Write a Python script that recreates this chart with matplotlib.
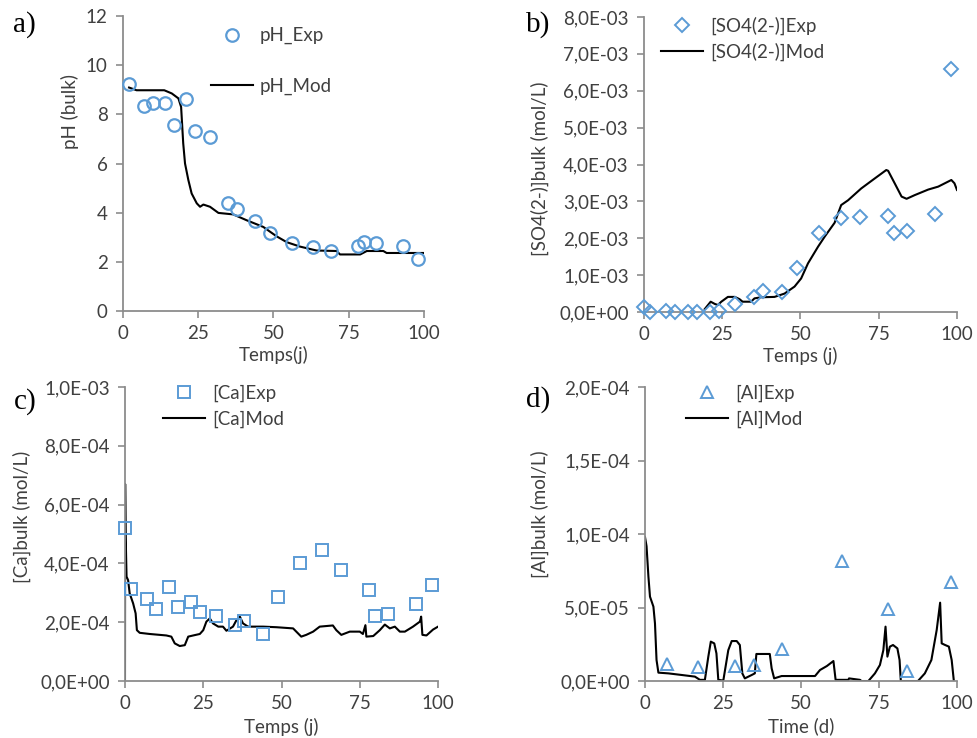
import matplotlib
matplotlib.use('Agg')
import matplotlib.pyplot as plt
from matplotlib.ticker import FuncFormatter

# temps des mesures (jours)
t_exp = [2, 7, 10, 14, 17, 21, 24, 29, 35, 38, 44, 49, 56, 63, 69, 78, 80, 84, 93, 98]

# a) pH
ph_exp = [9.25, 8.33, 8.47, 8.47, 7.55, 8.63, 7.34, 7.09, 4.40, 4.13, 3.66, 3.18, 2.75, 2.61, 2.45, 2.65, 2.80, 2.75, 2.65, 2.10]
t_ph_mod = [2, 4.5, 13.7, 16.2, 18.4, 19.3, 20.0, 20.6, 21.7, 22.8, 24.5, 25.6, 26.7, 28.9, 31.7, 36.6, 41.1, 46.6, 51.0, 54.4,
            58.8, 64.3, 71, 72.1, 78.8, 81, 86.5, 87.6, 100]
ph_mod = [9.09, 8.98, 8.98, 8.85, 8.65, 8.3, 6.82, 6.0, 5.33, 4.78, 4.38, 4.24, 4.33, 4.24, 3.99, 3.93, 3.69, 3.42, 3.04, 2.80,
          2.62, 2.46, 2.44, 2.3, 2.3, 2.44, 2.44, 2.36, 2.36]

# b) sulfates
t_so4_exp = [0, 2, 7, 10, 14, 17, 21, 24, 29, 35, 38, 44, 49, 56, 63, 69, 78, 80, 84, 93, 98]
so4_exp = [0.14e-3, 0, 0.02e-3, 0, 0, 0, 0, 0.03e-3, 0.22e-3, 0.41e-3, 0.56e-3, 0.54e-3, 1.19e-3, 2.15e-3, 2.56e-3,
           2.58e-3, 2.60e-3, 2.15e-3, 2.21e-3, 2.65e-3, 6.60e-3]
t_so4_mod = [19.4, 21.3, 22.6, 23.6, 24.7, 26.8, 29, 30.5, 31.5, 34.2, 35.3, 37.4, 41.7, 44.9, 48.1, 50.2, 52.4, 55.6,
             57.7, 60.9, 63.0, 65.2, 69.4, 73.7, 77.4, 78.0, 80.1, 82.3, 83.9, 86.5, 90.8, 94, 98.2, 99.2, 100]
so4_mod = [0.08e-3, 0.28e-3, 0.22e-3, 0.19e-3, 0.28e-3, 0.41e-3, 0.41e-3, 0.35e-3, 0.28e-3, 0.28e-3, 0.37e-3, 0.40e-3,
           0.41e-3, 0.50e-3, 0.69e-3, 0.91e-3, 1.32e-3, 1.77e-3, 2.04e-3, 2.42e-3, 2.90e-3, 3.03e-3, 3.35e-3, 3.62e-3,
           3.85e-3, 3.83e-3, 3.49e-3, 3.13e-3, 3.07e-3, 3.17e-3, 3.32e-3, 3.40e-3, 3.58e-3, 3.49e-3, 3.31e-3]

# c) calcium
t_ca_exp = [0, 2, 7, 10, 14, 17, 21, 24, 29, 35, 38, 44, 49, 56, 63, 69, 78, 80, 84, 93, 98]
ca_exp = [5.19e-4, 3.12e-4, 2.80e-4, 2.44e-4, 3.20e-4, 2.51e-4, 2.70e-4, 2.36e-4, 2.21e-4, 1.89e-4, 2.05e-4, 1.60e-4,
          2.87e-4, 4.00e-4, 4.46e-4, 3.78e-4, 3.10e-4, 2.22e-4, 2.28e-4, 2.61e-4, 3.25e-4]
t_ca_mod = [0, 0.05, 0.2, 0.5, 1.0, 1.5, 2.6, 3.4, 3.8, 4.7, 7.9, 13.2, 14.8, 15.9, 17.5, 19.1, 20.2, 21.8, 23.9, 25,
            26, 27.1, 28.1, 29.8, 31.3, 32.4, 34.5, 35.6, 36.7, 37.7, 39.3, 44.1, 48.4, 53.7, 56.3, 57.9, 60.1, 62.2,
            66.4, 67.5, 69.1, 71.8, 75, 76, 76.8, 77.1, 79.3, 81.4, 83, 84.6, 86.2, 87.8, 89.4, 92, 94.2, 94.6, 95,
            96.3, 98.4, 100]
ca_mod = [0, 6.7e-4, 5.0e-4, 3.55e-4, 3.43e-4, 2.98e-4, 2.64e-4, 2.3e-4, 1.73e-4, 1.64e-4, 1.60e-4, 1.55e-4, 1.51e-4,
          1.28e-4, 1.19e-4, 1.22e-4, 1.51e-4, 1.55e-4, 1.60e-4, 1.73e-4, 2.02e-4, 2.13e-4, 1.96e-4, 1.85e-4, 1.85e-4,
          1.71e-4, 1.85e-4, 2.07e-4, 2.19e-4, 1.96e-4, 1.85e-4, 1.85e-4, 1.83e-4, 1.79e-4, 1.51e-4, 1.57e-4, 1.68e-4,
          1.85e-4, 1.89e-4, 1.73e-4, 1.57e-4, 1.68e-4, 1.68e-4, 1.60e-4, 1.90e-4, 1.51e-4, 1.53e-4, 1.73e-4, 1.92e-4,
          1.79e-4, 1.85e-4, 1.68e-4, 1.68e-4, 1.85e-4, 2.02e-4, 2.19e-4, 1.57e-4, 1.55e-4, 1.75e-4, 1.85e-4]

# d) aluminium
t_al_exp = [7, 17, 29, 35, 44, 63, 78, 84, 98]
al_exp = [11.3e-6, 9.7e-6, 10.2e-6, 10.9e-6, 21.5e-6, 81.6e-6, 49.2e-6, 6.8e-6, 67.3e-6]
t_al_mod = [0, 0.5, 1.1, 1.6, 2.7, 3.2, 3.7, 4.3, 7.5, 11.8, 16.0, 17.6, 19.2, 20.3, 21.1, 22.2, 22.9, 23.5, 25.1,
            26.7, 27.8, 29.4, 30.4, 31.2, 32, 34.2, 35.2, 35.7, 37.4, 40.0, 40.6, 41.4, 43.8, 54.5, 56.1, 58.3, 60.4,
            61.1, 65.2, 65.4, 68.9, 69.4, 71.6, 73.7, 75.3, 76.4, 77.1, 77.7, 78.5, 79.5, 80.9, 81.6, 82, 87.5, 89.7,
            91.8, 93.5, 94.6, 95.1, 96.2, 97.4, 98.3, 99.0]
al_mod = [98, 91.7, 71, 57.4, 50.6, 39.2, 14.3, 5.7, 5.2, 4.1, 3.0, 0.8, 0.8, 16.6, 26.8, 25.6, 18.8, 0.8, 0.3,
          21, 27.2, 27.2, 24.5, 5.2, 1.8, 4.1, 5.2, 18.4, 18.4, 18.4, 8.6, 1.8, 3.4, 3.4, 7.5, 10.2, 13.6,
          0.8, 0.8, 1.8, 0.8, 0, 0, 5.2, 10.9, 21, 37, 16.6, 23.4, 24.5, 22.2, 14.3, 0, 0, 5.2,
          14.3, 34.7, 53.3, 25.6, 24.5, 23.4, 14.3, 0]
al_mod = [v * 1e-6 for v in al_mod]

blue = '#5B9BD5'
grey = '#404040'
fs = 13.5
plt.rcParams['font.family'] = ['Lato', 'DejaVu Sans']
plt.rcParams['font.size'] = fs

sci = FuncFormatter(lambda v, p: f'{v:.1E}'.replace('.', ','))

fig = plt.figure(figsize=(9.78, 7.38), dpi=100)
ax_a = fig.add_axes([0.1258, 0.5786, 0.3077, 0.3997])
ax_b = fig.add_axes([0.6585, 0.5772, 0.3200, 0.3998])
ax_c = fig.add_axes([0.1278, 0.0772, 0.3201, 0.3984])
ax_d = fig.add_axes([0.6595, 0.0772, 0.3190, 0.3984])


def style(ax, ymax, ystep, xlabel, ylabel, xl_pos, yl_pos, fmt=None):
    ax.set_xlim(0, 100)
    ax.set_ylim(0, ymax)
    ax.set_xticks([0, 25, 50, 75, 100])
    ax.set_yticks([i * ystep for i in range(int(round(ymax / ystep)) + 1)])
    if fmt is not None:
        ax.yaxis.set_major_formatter(fmt)
    for s in ['top', 'right']:
        ax.spines[s].set_visible(False)
    for s in ['left', 'bottom']:
        ax.spines[s].set_color('#8c8c8c')
        ax.spines[s].set_linewidth(1.3)
    ax.tick_params(axis='both', direction='out', length=5, width=1.2, color='#8c8c8c', labelcolor=grey, labelsize=fs)
    ax.tick_params(axis='x', pad=5)
    ax.tick_params(axis='y', pad=6)
    ax.set_xlabel(xlabel, color=grey, fontsize=fs)
    ax.set_ylabel(ylabel, color=grey, fontsize=fs)
    ax.xaxis.label.set_va('center')
    ax.yaxis.label.set_va('center')
    ax.xaxis.set_label_coords(*xl_pos)
    ax.yaxis.set_label_coords(*yl_pos)
    ax.patch.set_visible(False)


def leg(ax, x, y, spacing):
    ax.legend(loc='upper left', bbox_to_anchor=(x, y), frameon=False, borderpad=0, borderaxespad=0,
              handlelength=2.25, handletextpad=0.37, labelspacing=spacing, labelcolor=grey, fontsize=fs)


# a
ax_a.plot(t_exp, ph_exp, 'o', ms=9, mfc='none', mec=blue, mew=1.6, label='pH_Exp', clip_on=False, zorder=3)
ax_a.plot(t_ph_mod, ph_mod, color='black', lw=1.5, label='pH_Mod')
style(ax_a, 12, 2, 'Temps(j)', 'pH (bulk)', (0.5, -0.148), (-0.176, 0.675))
leg(ax_a, 0.292, 0.962, 1.75)

# b
ax_b.plot(t_so4_exp, so4_exp, 'D', ms=7, mfc='none', mec=blue, mew=1.4, label='[SO4(2-)]Exp', clip_on=False, zorder=3)
ax_b.plot(t_so4_mod, so4_mod, color='black', lw=1.5, label='[SO4(2-)]Mod')
style(ax_b, 8e-3, 1e-3, 'Temps (j)', '[SO4(2-)]bulk (mol/L)', (0.5, -0.148), (-0.332, 0.485), sci)
leg(ax_b, 0.054, 1.0, 0.39)

# c
ax_c.plot(t_ca_exp, ca_exp, 's', ms=8, mfc='none', mec=blue, mew=1.4, label='[Ca]Exp', clip_on=False, zorder=3)
ax_c.plot(t_ca_mod, ca_mod, color='black', lw=1.5, label='[Ca]Mod')
style(ax_c, 1e-3, 2e-4, 'Temps (j)', '[Ca]bulk (mol/L)', (0.5, -0.155), (-0.329, 0.558), sci)
leg(ax_c, 0.121, 1.007, 0.45)

# d
ax_d.plot(t_al_exp, al_exp, '^', ms=9, mfc='none', mec=blue, mew=1.4, label='[Al]Exp', clip_on=False, zorder=3)
ax_d.plot(t_al_mod, al_mod, color='black', lw=1.5, label='[Al]Mod')
style(ax_d, 2e-4, 5e-5, 'Time (d)', '[Al]bulk (mol/L)', (0.5, -0.153), (-0.337, 0.568), sci)
leg(ax_d, 0.131, 1.007, 0.45)

# lettres des panneaux
for x, y, s in [(13, 25, 'a)'), (526, 25, 'b)'), (14, 402, 'c)'), (526, 400, 'd)')]:
    fig.text(x / 978, 1 - y / 738, s, fontsize=21, family='Liberation Serif', va='center', ha='left')

fig.savefig('out.png', dpi=100)
